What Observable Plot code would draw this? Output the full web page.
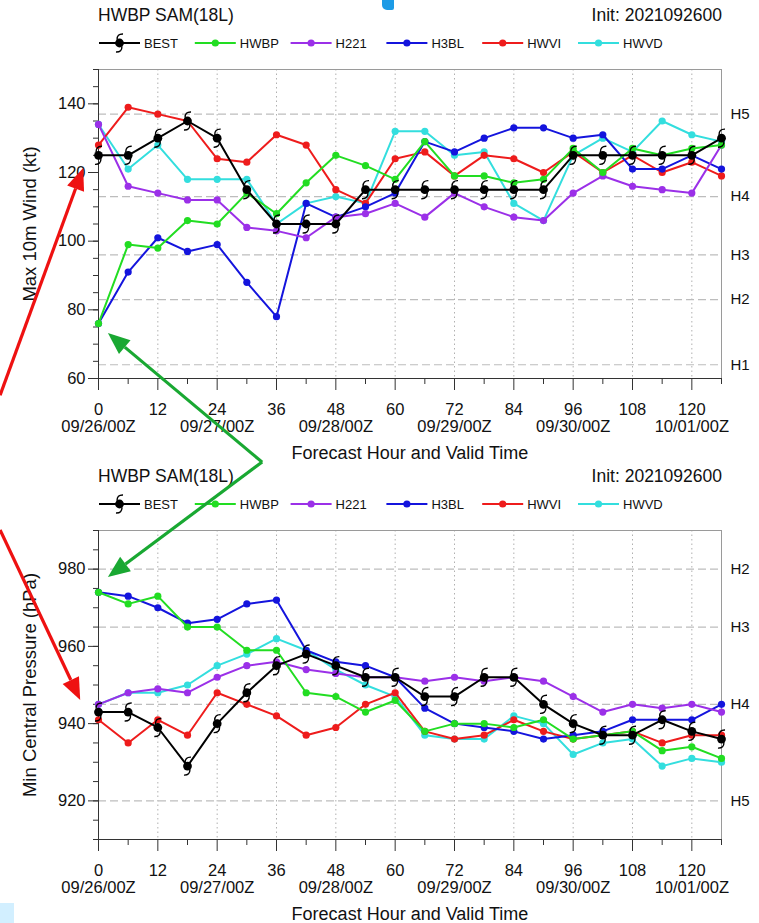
<!DOCTYPE html>
<html><head><meta charset="utf-8">
<script src="https://cdn.jsdelivr.net/npm/d3@7"></script>
<script src="https://cdn.jsdelivr.net/npm/@observablehq/plot@0.6"></script>
<style>
body{margin:0;background:#fff;}
#page{position:relative;width:759px;height:923px;overflow:hidden;background:#fff;font-family:"Liberation Sans",Arial,Helvetica,sans-serif;color:#111;}
.ttl{position:absolute;font-size:17.5px;line-height:20px;white-space:nowrap;}
</style></head>
<body><div id="page"></div>
<script>
// ---------------- data ----------------
const hours = [0,6,12,18,24,30,36,42,48,54,60,66,72,78,84,90,96,102,108,114,120,126];
const models = ["BEST","HWBP","H221","H3BL","HWVI","HWVD"];
const modelColors = ["#000000","#22dd22","#9b30e8","#1414dd","#ee1c1c","#33dede"];

const windBEST = [125,125,130,135,130,115,105,105,105,115,115,115,115,115,115,115,125,125,125,125,125,130];
const windHWBP = [76,99,98,106,105,114,108,117,125,122,118,129,119,119,117,118,127,120,127,125,127,128];
const windH221 = [134,116,114,112,112,104,103,101,107,108,111,107,114,110,107,106,114,119,116,115,114,128];
const windH3BL = [76,91,101,97,99,88,78,111,107,110,114,129,126,130,133,133,130,131,121,121,125,121];
const windHWVI = [128,139,137,135,124,123,131,128,115,111,124,126,119,125,124,120,126,120,125,120,123,119];
const windHWVD = [134,121,128,118,118,118,105,111,113,111,132,132,125,126,111,106,125,130,126,135,131,129];

const presBEST = [943,943,939,929,940,948,955,958,955,952,952,947,947,952,952,945,940,937,937,941,938,936];
const presHWBP = [974,971,973,965,965,959,959,948,947,943,946,938,940,940,939,941,936,937,938,933,934,931];
const presH221 = [945,948,949,948,952,955,956,954,953,952,952,951,952,951,952,951,947,943,945,944,945,943];
const presH3BL = [974,973,970,966,967,971,972,959,956,955,952,944,940,939,938,936,937,938,941,941,941,945];
const presHWVI = [941,935,941,937,948,945,942,937,939,945,948,938,936,937,941,938,936,937,938,935,937,937];
const presHWVD = [945,948,948,950,955,958,962,959,954,950,947,937,936,936,942,940,932,935,936,929,931,930];

const hourTicks = [0,12,24,36,48,60,72,84,96,108,120];
const hourLabels = ["0","12","24","36","48","60","72","84","96","108","120"];
const hourMinor = [6,18,30,42,54,66,78,90,102,114,126];
const dateTicks = [0,24,48,72,96,120];
const dateLabels = ["09/26/00Z","09/27/00Z","09/28/00Z","09/29/00Z","09/30/00Z","10/01/00Z"];
const gridHours = [12,24,36,48,60,72,84,96,108,120];

const windTicks = [60,80,100,120,140];
const windMinor = d3.range(60,151,5);
const windCat = [64,83,96,113,137];
const windCatLabels = ["H1","H2","H3","H4","H5"];

const presTicks = [920,940,960,980];
const presMinor = d3.range(910,991,5);
const presCat = [980,965,945,920];
const presCatLabels = ["H2","H3","H4","H5"];

const titleText = "HWBP SAM(18L)";
const initText = "Init: 2021092600";
const xTitle = "Forecast Hour and Valid Time";

// annotation arrows (tail -> head) in each panel's data units [hour, value]
const windArrows = [
  {color:"#ee1111", from:[-19.8,55], to:[-3.0,121.2]},
  {color:"#19a832", from:[33.2,35.5], to:[2.0,73.1]}
];
const presArrows = [
  {color:"#ee1111", from:[-19.8,990], to:[-3.6,946]},
  {color:"#19a832", from:[33.2,1007.6], to:[2.0,977.8]}
];

// ---------------- helpers ----------------
const FONT = '"Liberation Sans", Arial, Helvetica, sans-serif';
const hurricaneTails = {
  draw(ctx, size) {
    const r = Math.sqrt(size / Math.PI);
    ctx.moveTo(-0.55*r, -0.75*r);
    ctx.quadraticCurveTo(-0.6*r, -2.1*r, 0.8*r, -2.05*r);
    ctx.moveTo(0.55*r, 0.75*r);
    ctx.quadraticCurveTo(0.6*r, 2.1*r, -0.8*r, 2.05*r);
  }
};

function rowsFor(seriesArrays) {
  const rows = [];
  for (let m = models.length - 1; m >= 0; m--) {
    seriesArrays[m].forEach((v, i) => rows.push({model: models[m], order: m, hour: hours[i], value: v}));
  }
  return rows;
}

function panel({yDomain, yTicks, yMinor, cat, catLabels, yLabel, series}) {
  const rows = rowsFor(series);
  const colorOf = Object.fromEntries(models.map((m,i)=>[m, modelColors[i]]));
  const dateMap = new Map(dateTicks.map((h,i)=>[h, dateLabels[i]]));
  const hourMap = new Map(hourTicks.map((h,i)=>[h, hourLabels[i]]));
  const lineMarks = [];
  for (let m = models.length - 1; m >= 0; m--) {
    const d = rows.filter(r => r.order === m);
    lineMarks.push(Plot.line(d, {x:"hour", y:"value", stroke: colorOf[models[m]], strokeWidth: 2}));
    if (models[m] === "BEST") {
      lineMarks.push(Plot.dot(d, {x:"hour", y:"value", r:4.4, fill:"#000", stroke:"none"}));
      lineMarks.push(Plot.dot(d, {x:"hour", y:"value", r:4.4, symbol: hurricaneTails, fill:"none", stroke:"#000", strokeWidth:1.4}));
    } else {
      lineMarks.push(Plot.dot(d, {x:"hour", y:"value", r:3.6, fill: colorOf[models[m]], stroke:"none"}));
    }
  }
  return Plot.plot({
    width: 759, height: 402,
    marginLeft: 98, marginRight: 38, marginTop: 9, marginBottom: 84,
    x: {domain: [0,126], label: null},
    y: {domain: yDomain, label: null},
    style: {fontFamily: FONT, fontSize: "16px", color: "#111", background: "transparent", overflow: "visible"},
    marks: [
      Plot.gridX(gridHours, {stroke:"#b0b0b0", strokeOpacity:1, strokeDasharray:"1.5,3"}),
      Plot.ruleY(cat, {stroke:"#bdbdbd", strokeDasharray:"8,4", strokeWidth:1.2}),
      Plot.frame({stroke:"#9a9a9a"}),
      Plot.ruleX([0], {stroke:"#333"}),
      Plot.ruleY([yDomain[0]], {stroke:"#333"}),
      Plot.axisY(yMinor, {tickSize:5, fill:"none", stroke:"#333", label:null}),
      Plot.axisY(yTicks, {tickSize:10, tickPadding:3, stroke:"#333", label:null, tickFormat: d => String(d), fontSize:16.5}),
      Plot.axisX(hourMinor, {tickSize:6, fill:"none", stroke:"#333", label:null}),
      Plot.axisX(hourTicks, {tickSize:12, tickPadding:13, stroke:"#333", label:null, tickFormat: h => hourMap.get(h), fontSize:16.5}),
      Plot.axisX(dateTicks, {tickSize:0, tickPadding:42, label:null, tickFormat: h => dateMap.get(h), fontSize:16.5}),
      Plot.text(cat, {y: d => d, text: (d,i) => catLabels[i], frameAnchor:"right", dx:9, textAnchor:"start", fontSize:15}),
      Plot.text([xTitle], {frameAnchor:"bottom", dy:75, lineAnchor:"middle", textAnchor:"middle", fontSize:18}),
      Plot.text([yLabel], {frameAnchor:"left", dx:-68, rotate:-90, lineAnchor:"middle", textAnchor:"middle", fontSize:18.5}),
      ...lineMarks
    ]
  });
}

const page = document.getElementById("page");
function put(el, left, top) {
  el.style.position = "absolute"; el.style.left = left + "px"; el.style.top = top + "px";
  page.appendChild(el); return el;
}

function header(top) {
  const t = document.createElement("div"); t.className = "ttl"; t.textContent = titleText; put(t, 98, top + 5);
  const s = document.createElement("div"); s.className = "ttl"; s.textContent = initText;
  put(s, 0, top + 5); s.style.left = "auto"; s.style.right = (759 - 722) + "px";
  const svg = d3.create("svg").attr("width", 759).attr("height", 24)
    .style("font-family", FONT).style("font-size", "13px");
  models.forEach((m, i) => {
    const x0 = 99 + i * 95.8, x1 = x0 + 41, cy = 12;
    const g = svg.append("g");
    g.append("line").attr("x1", x0).attr("x2", x1).attr("y1", cy).attr("y2", cy)
      .attr("stroke", modelColors[i]).attr("stroke-width", 2);
    if (m === "BEST") {
      g.append("circle").attr("cx", (x0+x1)/2).attr("cy", cy).attr("r", 4.4).attr("fill", "#000");
      g.append("path").attr("transform", `translate(${(x0+x1)/2},${cy})`)
        .attr("d", d3.symbol(hurricaneTails, Math.PI*4.4*4.4)()).attr("fill","none").attr("stroke","#000").attr("stroke-width",1.4);
    } else {
      g.append("circle").attr("cx", (x0+x1)/2).attr("cy", cy).attr("r", 3.6).attr("fill", modelColors[i]);
    }
    g.append("text").attr("x", x1 + 4).attr("y", cy).attr("dy", "0.36em").attr("fill", "#111").text(m);
  });
  put(svg.node(), 0, top + 31);
}

header(0);
const top1 = 60, top2 = 521;
header(top2 - 60);

const windChart = panel({yDomain:[60,150], yTicks:windTicks, yMinor:windMinor, cat:windCat, catLabels:windCatLabels,
  yLabel:"Max 10m Wind (kt)", series:[windBEST,windHWBP,windH221,windH3BL,windHWVI,windHWVD]});
put(windChart, 0, top1);
const presChart = panel({yDomain:[910,990], yTicks:presTicks, yMinor:presMinor, cat:presCat, catLabels:presCatLabels,
  yLabel:"Min Central Pressure (hPa)", series:[presBEST,presHWBP,presH221,presH3BL,presHWVI,presHWVD]});
put(presChart, 0, top2);

// cropped fragments at the image edges (decorative)
const frag1 = document.createElement("div");
frag1.style.cssText = "width:12px;height:10px;background:#1d9be6;border-radius:0 0 2px 5px;";
put(frag1, 382, 0);
const frag2 = document.createElement("div");
frag2.style.cssText = "width:14px;height:20px;background:#d2efff;";
put(frag2, 0, 903);

// ---------------- annotation arrows through each chart's scales ----------------
const over = d3.create("svg").attr("width", 759).attr("height", 923).style("pointer-events","none");
function drawArrows(chart, offTop, arrows) {
  const sx = chart.scale("x"), sy = chart.scale("y");
  arrows.forEach(a => {
    const x0 = sx.apply(a.from[0]), y0 = sy.apply(a.from[1]) + offTop;
    const x1 = sx.apply(a.to[0]), y1 = sy.apply(a.to[1]) + offTop;
    const ang = Math.atan2(y1 - y0, x1 - x0);
    const L = 22, W = 9;
    const bx = x1 - L * Math.cos(ang), by = y1 - L * Math.sin(ang);
    over.append("line").attr("x1", x0).attr("y1", y0).attr("x2", bx).attr("y2", by)
      .attr("stroke", a.color).attr("stroke-width", 3.2);
    const px = -Math.sin(ang) * W, py = Math.cos(ang) * W;
    over.append("path").attr("d", `M${x1},${y1}L${bx+px},${by+py}L${bx-px},${by-py}Z`).attr("fill", a.color);
  });
}
drawArrows(windChart, top1, windArrows);
drawArrows(presChart, top2, presArrows);
put(over.node(), 0, 0);
</script>
</body></html>
